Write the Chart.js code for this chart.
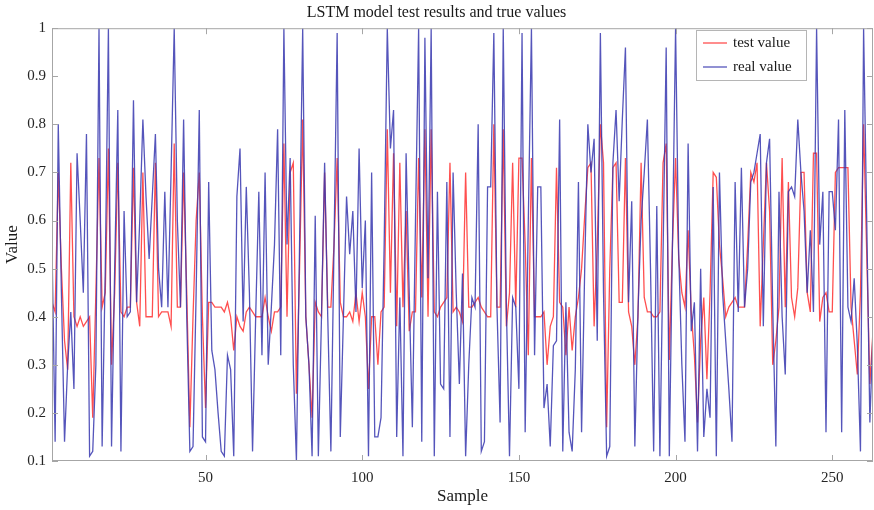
<!DOCTYPE html>
<html>
<head>
<meta charset="utf-8">
<script src="https://cdn.jsdelivr.net/npm/chart.js@4"></script>
<style>
  html, body { margin: 0; padding: 0; background: #fff; }
</style>
</head>
<body>
<canvas id="lstmChart" width="874" height="510"></canvas>
<script>
const testValues = [
  0.43, 0.41, 0.70, 0.50, 0.35, 0.29, 0.72, 0.40, 0.38, 0.40, 0.38, 0.39, 0.40, 0.19, 0.45, 0.73, 0.42, 0.45, 0.75, 0.30, 0.45, 0.72,
  0.41, 0.40, 0.42, 0.42, 0.71, 0.43, 0.38, 0.70, 0.40, 0.40, 0.40, 0.72, 0.40, 0.41, 0.41, 0.41, 0.38, 0.76, 0.42, 0.42, 0.70, 0.45, 0.17,
  0.40, 0.60, 0.70, 0.40, 0.21, 0.43, 0.43, 0.42, 0.42, 0.42, 0.41, 0.43, 0.40, 0.33, 0.40, 0.38, 0.37, 0.41, 0.42,
  0.41, 0.40, 0.40, 0.40, 0.44, 0.40, 0.37, 0.41, 0.41, 0.42, 0.76, 0.40, 0.70, 0.72, 0.24, 0.50, 0.81, 0.40, 0.30, 0.19, 0.43, 0.41, 0.40, 0.70,
  0.42, 0.42, 0.55, 0.73, 0.43, 0.40, 0.40, 0.41, 0.39, 0.45, 0.39, 0.45, 0.40, 0.25, 0.40, 0.40, 0.30, 0.41, 0.42, 0.79, 0.45, 0.74,
  0.38, 0.72, 0.42, 0.62, 0.37, 0.41, 0.41, 0.73, 0.44, 0.79, 0.40, 0.79, 0.41, 0.40, 0.42, 0.43, 0.44, 0.72, 0.41, 0.42, 0.41, 0.39,
  0.70, 0.42, 0.42, 0.43, 0.44, 0.42, 0.41, 0.40, 0.40, 0.80, 0.42, 0.42, 0.79, 0.38, 0.45, 0.72, 0.42, 0.73, 0.73, 0.55, 0.32, 0.73,
  0.40, 0.40, 0.40, 0.41, 0.30, 0.38, 0.40, 0.71, 0.43, 0.42, 0.32, 0.42, 0.33, 0.40, 0.44, 0.50, 0.61, 0.71, 0.72, 0.38, 0.55, 0.80,
  0.72, 0.17, 0.50, 0.71, 0.72, 0.43, 0.43, 0.73, 0.41, 0.38, 0.30, 0.40, 0.72, 0.44, 0.41, 0.41, 0.40, 0.40, 0.41, 0.72, 0.76,
  0.31, 0.55, 0.73, 0.52, 0.45, 0.42, 0.58, 0.41, 0.32, 0.18, 0.35, 0.44, 0.27, 0.45, 0.70, 0.69, 0.55, 0.48, 0.40, 0.42, 0.43, 0.44,
  0.42, 0.42, 0.42, 0.55, 0.70, 0.68, 0.72, 0.38, 0.55, 0.72, 0.62, 0.30, 0.35, 0.42, 0.73, 0.42, 0.68, 0.44, 0.40, 0.46, 0.70,
  0.70, 0.45, 0.41, 0.74, 0.74, 0.39, 0.44, 0.45, 0.41, 0.41, 0.70, 0.71, 0.71, 0.71, 0.71, 0.42, 0.35, 0.28, 0.45, 0.80, 0.53, 0.26, 0.37
];

const realValues = [
  0.55, 0.14, 0.80, 0.45, 0.14, 0.30, 0.41, 0.25, 0.74, 0.60, 0.45, 0.78, 0.11, 0.12, 0.30, 1.00, 0.13, 0.50, 1.00, 0.13, 0.50, 0.83,
  0.12, 0.62, 0.40, 0.41, 0.85, 0.43, 0.60, 0.81, 0.65, 0.52, 0.65, 0.78, 0.50, 0.42, 0.66, 0.42, 0.70, 1.00, 0.60, 0.42, 0.81, 0.40, 0.12,
  0.13, 0.45, 0.83, 0.15, 0.14, 0.68, 0.33, 0.29, 0.20, 0.12, 0.11, 0.32, 0.29, 0.11, 0.65, 0.75, 0.39, 0.67, 0.45,
  0.12, 0.40, 0.66, 0.32, 0.70, 0.30, 0.42, 0.55, 0.79, 0.32, 1.00, 0.55, 0.73, 0.30, 0.10, 0.55, 1.00, 0.40, 0.30, 0.11, 0.61, 0.11, 0.40, 0.72,
  0.40, 0.12, 0.55, 0.99, 0.15, 0.40, 0.65, 0.53, 0.62, 0.41, 0.75, 0.46, 0.60, 0.11, 0.70, 0.15, 0.15, 0.19, 0.55, 1.00, 0.75, 0.83,
  0.15, 0.44, 0.11, 0.74, 0.45, 0.17, 0.60, 1.00, 0.14, 0.98, 0.48, 1.00, 0.11, 0.66, 0.26, 0.25, 0.68, 0.15, 0.70, 0.45, 0.26, 0.49,
  0.11, 0.30, 0.44, 0.42, 0.80, 0.12, 0.14, 0.67, 0.67, 0.99, 0.42, 0.18, 1.00, 0.42, 0.11, 0.44, 0.42, 0.25, 0.99, 0.16, 0.60, 1.00,
  0.32, 0.67, 0.67, 0.21, 0.26, 0.13, 0.34, 0.35, 0.81, 0.12, 0.43, 0.16, 0.12, 0.29, 0.68, 0.16, 0.50, 0.80, 0.70, 0.77, 0.35, 0.99,
  0.45, 0.11, 0.13, 0.72, 0.83, 0.64, 0.81, 0.96, 0.43, 0.64, 0.13, 0.41, 0.60, 0.70, 0.81, 0.50, 0.12, 0.63, 0.11, 0.53, 0.96,
  0.11, 0.55, 1.00, 0.53, 0.30, 0.14, 0.76, 0.37, 0.43, 0.12, 0.50, 0.15, 0.25, 0.19, 0.67, 0.11, 0.70, 0.45, 0.35, 0.25, 0.14, 0.68,
  0.41, 0.71, 0.42, 0.50, 0.68, 0.70, 0.74, 0.78, 0.38, 0.72, 0.77, 0.42, 0.13, 0.66, 0.40, 0.28, 0.66, 0.67, 0.65, 0.81, 0.70,
  0.62, 0.45, 0.58, 0.41, 1.00, 0.55, 0.66, 0.16, 0.66, 0.66, 0.58, 0.81, 0.16, 0.83, 0.42, 0.39, 0.48, 0.34, 0.12, 1.00, 0.60, 0.18, 0.37
];

const xTickValues = [50, 100, 150, 200, 250];
const yTickValues = [0.1, 0.2, 0.3, 0.4, 0.5, 0.6, 0.7, 0.8, 0.9, 1];
const seriesNames = ['test value', 'real value'];

const serif = '"Liberation Serif", "Times New Roman", serif';
const toPoints = arr => arr.map((v, i) => ({ x: i + 1, y: v }));

// box, inward ticks and the legend drawn over the plot, MATLAB style
const boxPlugin = {
    id: 'matlabBox',
    afterDatasetsDraw(chart) {
        const { ctx, chartArea: a, scales: { x, y } } = chart;
        ctx.save();
        ctx.strokeStyle = '#a6a6a6';
        ctx.lineWidth = 1;
        ctx.strokeRect(a.left + 0.5, a.top + 0.5, a.right - a.left - 1, a.bottom - a.top - 1);

        ctx.beginPath();
        xTickValues.forEach(v => {
            const px = Math.round(x.getPixelForValue(v)) + 0.5;
            ctx.moveTo(px, a.bottom); ctx.lineTo(px, a.bottom - 6);
            ctx.moveTo(px, a.top); ctx.lineTo(px, a.top + 6);
        });
        yTickValues.forEach(v => {
            const py = Math.round(y.getPixelForValue(v)) + 0.5;
            ctx.moveTo(a.left, py); ctx.lineTo(a.left + 6, py);
            ctx.moveTo(a.right, py); ctx.lineTo(a.right - 6, py);
        });
        ctx.stroke();

        // legend
        const lx = 696, ly = 30, lw = 110, lh = 50;
        ctx.fillStyle = '#fff';
        ctx.fillRect(lx, ly, lw, lh);
        ctx.strokeStyle = '#b5b5b5';
        ctx.strokeRect(lx + 0.5, ly + 0.5, lw, lh);
        ctx.font = '15px ' + serif;
        ctx.textBaseline = 'middle';
        chart.data.datasets.forEach((ds, i) => {
            const cy = ly + 13 + i * 24;
            ctx.strokeStyle = ds.borderColor;
            ctx.lineWidth = 1.3;
            ctx.beginPath();
            ctx.moveTo(lx + 7, cy); ctx.lineTo(lx + 31, cy);
            ctx.stroke();
            ctx.fillStyle = '#1a1a1a';
            ctx.fillText(ds.label, lx + 37, cy);
        });
        ctx.restore();
    }
};

new Chart(document.getElementById('lstmChart'), {
    type: 'line',
    data: {
        datasets: [{
            label: seriesNames[0],
            data: toPoints(testValues),
            borderColor: 'rgba(255, 60, 60, 0.9)',
            borderWidth: 1.3,
            pointRadius: 0,
            tension: 0,
            order: 2
        }, {
            label: seriesNames[1],
            data: toPoints(realValues),
            borderColor: 'rgba(55, 55, 175, 0.85)',
            borderWidth: 1.3,
            pointRadius: 0,
            tension: 0,
            order: 1
        }]
    },
    options: {
        responsive: false,
        animation: false,
        layout: { padding: { left: 0, right: 1, top: 0, bottom: 0 } },
        plugins: {
            legend: { display: false },
            tooltip: { enabled: false },
            title: {
                display: true,
                text: 'LSTM model test results and true values',
                color: '#1a1a1a',
                font: { family: serif, size: 16, weight: 'normal' },
                padding: { top: 3, bottom: 6 }
            }
        },
        scales: {
            x: {
                type: 'linear',
                min: 1,
                max: 263,
                grid: { display: false, drawTicks: false },
                border: { display: false },
                afterBuildTicks: axis => { axis.ticks = xTickValues.map(v => ({ value: v })); },
                afterFit: scale => { scale.height = 49; },
                ticks: { color: '#262626', font: { family: serif, size: 15 }, padding: 8, maxRotation: 0 },
                title: {
                    display: true, text: 'Sample', color: '#1a1a1a',
                    font: { family: serif, size: 17 }, padding: { top: 0, bottom: 3 }
                }
            },
            y: {
                min: 0.1,
                max: 1,
                grid: { display: false, drawTicks: false },
                border: { display: false },
                afterBuildTicks: axis => { axis.ticks = yTickValues.map(v => ({ value: v })); },
                afterFit: scale => { scale.width = 52; },
                ticks: {
                    color: '#262626', font: { family: serif, size: 15 }, padding: 6,
                    callback: v => String(Math.round(v * 10) / 10)
                },
                title: {
                    display: true, text: 'Value', color: '#1a1a1a',
                    font: { family: serif, size: 17 }, padding: { top: 2, bottom: 2 }
                }
            }
        }
    },
    plugins: [boxPlugin]
});
</script>
</body>
</html>
